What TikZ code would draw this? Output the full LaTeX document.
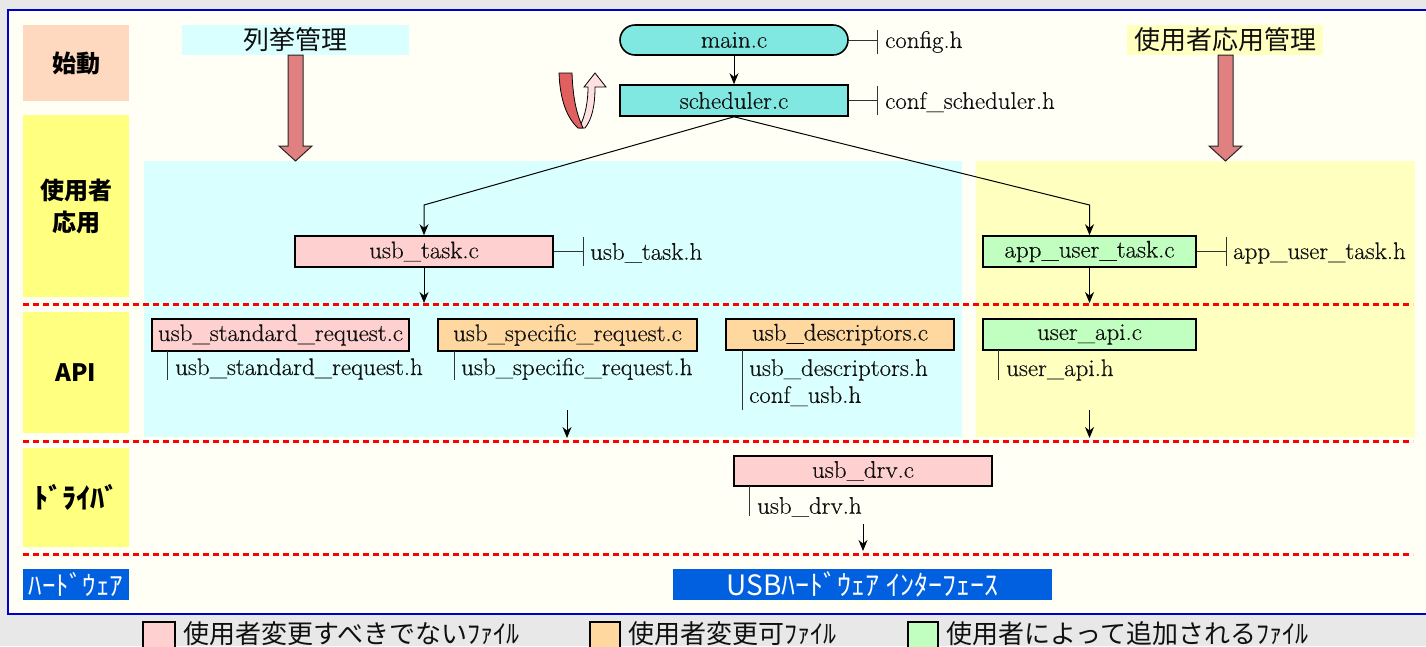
\documentclass[tikz,border=0pt]{standalone}
\usepackage{fontspec}
\newfontfamily\jp{Noto Sans CJK JP}
\newfontfamily\fnfont{Latin Modern Roman}[FakeStretch=1.04,FakeBold=0.4]
\usetikzlibrary{arrows.meta}
\definecolor{bggray}{HTML}{E8E8E8}
\definecolor{panel}{HTML}{FFFFF6}
\definecolor{panelblue}{HTML}{0000CC}
\definecolor{peach}{HTML}{FFD8C0}
\definecolor{ylw}{HTML}{FFFF80}
\definecolor{cyanbg}{HTML}{D9FFFF}
\definecolor{ylbg}{HTML}{FFFFC0}
\definecolor{turq}{HTML}{80E8E0}
\definecolor{pinkf}{HTML}{FFD0D0}
\definecolor{orangef}{HTML}{FFD8A0}
\definecolor{greenf}{HTML}{C0FFC0}
\definecolor{hwblue}{HTML}{0060E0}
\definecolor{bigarrow}{HTML}{E08080}
\definecolor{loopred}{HTML}{E06060}
\definecolor{looppink}{HTML}{FFE0E0}
\definecolor{txt}{HTML}{101010}
\newcommand\fnsz{\fnfont\fontsize{24}{27}\selectfont}
\tikzset{
  fbox/.style={draw=black, line width=1.6pt, inner sep=0pt, font=\fnsz, text=txt},
  hfile/.style={inner sep=0pt, anchor=west, font=\fnsz, text=txt, align=left},
  tickln/.style={line width=0.9pt, draw=black!80},
  conn/.style={line width=1pt, -{Stealth[length=11pt,width=9pt]}},
  lbl/.style={inner sep=0pt, minimum width=106pt, font=\jp\bfseries\fontsize{24}{32}\selectfont, text=black},
  hdr/.style={inner sep=0pt, font=\jp\fontsize{26}{30}\selectfont, text=txt},
  sepline/.style={draw=red, line width=3pt, dash pattern=on 6pt off 4pt},
  legsq/.style={draw=black, line width=1.6pt},
  legtxt/.style={inner sep=0pt, anchor=west, font=\jp\fontsize{26}{30}\selectfont, text=txt},
  fatarrow/.style={draw=black!85, line width=1pt, fill=bigarrow}
}
\begin{document}
\begin{tikzpicture}[x=1pt,y=-1pt]
\useasboundingbox (0,0) rectangle (1426,646);
\fill[bggray] (0,0) rectangle (1426,646);
\draw[draw=panelblue, line width=2pt, fill=panel] (8,10) rectangle (1445,614);

% lanes
\fill[cyanbg] (144,161) rectangle (962,437);
\fill[ylbg] (976,161) rectangle (1415,437);

% left labels
\node[lbl, fill=peach, minimum height=76pt] (lstart) at (76,63) {始動};
\node[lbl, fill=ylw, minimum height=182pt, align=center] (lapp) at (76,206) {使用者\\応用};
\node[lbl, fill=ylw, minimum height=121pt] (lapi) at (76,372.5) {API};
\node[lbl, fill=ylw, minimum height=99pt, font=\jp\bfseries\fontsize{28}{32}\selectfont] (ldrv) at (76,497.5) {ﾄﾞﾗｲﾊﾞ};
\node[lbl, fill=hwblue, text=white, minimum height=31pt, font=\jp\fontsize{27}{30}\selectfont] (lhw) at (76,584.5) {ﾊｰﾄﾞｳｪｱ};

% separators
\draw[sepline] (23,304) -- (1413,304);
\draw[sepline] (23,441) -- (1413,441);
\draw[sepline] (23,554) -- (1413,554);

% headers
\node[hdr, fill=cyanbg, minimum width=227pt, minimum height=30pt] (enum) at (295.5,40) {列挙管理};
\node[hdr, fill=ylbg, minimum width=196pt, minimum height=30pt] (appm) at (1225,40) {使用者応用管理};

% big arrows
\draw[fatarrow] (288,55) -- (303,55) -- (303,146) -- (312,146) -- (295.5,161) -- (279,146) -- (288,146) -- cycle;
\draw[fatarrow] (1218,55) -- (1233,55) -- (1233,146) -- (1242,146) -- (1225.5,161) -- (1209,146) -- (1218,146) -- cycle;

% loop arrow
\draw[fill=looppink, line width=0.8pt] (579,128) .. controls (586,115) and (588,100) .. (588,87) -- (584,87) -- (595,73) -- (606,87) -- (595,87) .. controls (595,106) and (592,119) .. (585,128) -- cycle;
\draw[fill=loopred, line width=0.8pt] (559,73) -- (572,73) .. controls (573,100) and (577,115) .. (583,128) -- (578,128) .. controls (567,118) and (560,100) .. (559,73) -- cycle;

% top nodes
\node[fbox, fill=turq, rounded corners=15pt, minimum width=228pt, minimum height=30pt] (main) at (734,40) {main.c};
\node[fbox, fill=turq, minimum width=228pt, minimum height=31pt] (sched) at (734,100.5) {scheduler.c};
\node[hfile] (cfg) at (885,42) {config.h};
\node[hfile] (csch) at (885,102) {conf\_scheduler.h};
\draw[tickln] (main.east) -- (877,40);
\draw[tickln] (877,30) -- (877,54);
\draw[tickln] (sched.east) -- (877,100.5);
\draw[tickln] (877,86) -- (877,115);

% task row
\node[fbox, fill=pinkf, minimum width=258pt, minimum height=31pt] (usbtask) at (424,251.5) {usb\_task.c};
\node[fbox, fill=greenf, minimum width=213pt, minimum height=31pt] (apptask) at (1089.5,251.5) {app\_user\_task.c};
\node[hfile] (usbtaskh) at (590,253) {usb\_task.h};
\node[hfile] (apptaskh) at (1233,253) {app\_user\_task.h};
\draw[tickln] (usbtask.east) -- (583,251.5);
\draw[tickln] (583,237) -- (583,266);
\draw[tickln] (apptask.east) -- (1226,251.5);
\draw[tickln] (1226,237) -- (1226,266);

\coordinate (bl) at (424,205);
\coordinate (br) at (1089.5,205);
\draw[conn] (main.south) -- (sched.north);
\draw[conn] (sched.south) -- (bl) -- (usbtask.north);
\draw[conn] (sched.south) -- (br) -- (apptask.north);
\coordinate (s1a) at (424,303);
\coordinate (s1b) at (1089.5,303);
\draw[conn] (usbtask.south) -- (s1a);
\draw[conn] (apptask.south) -- (s1b);

% API row
\node[fbox, fill=pinkf, minimum width=257pt, minimum height=32pt] (stdreq) at (280.5,335) {usb\_standard\_request.c};
\node[fbox, fill=orangef, minimum width=259pt, minimum height=32pt] (specreq) at (567.5,335) {usb\_specific\_request.c};
\node[fbox, fill=orangef, minimum width=228pt, minimum height=31pt] (desc) at (840,334.5) {usb\_descriptors.c};
\node[fbox, fill=greenf, minimum width=213pt, minimum height=31pt] (uapi) at (1089.5,334.5) {user\_api.c};
\node[hfile] (stdreqh) at (175,369) {usb\_standard\_request.h};
\node[hfile] (specreqh) at (461,369) {usb\_specific\_request.h};
\node[hfile, anchor=north west] (desch) at (749,359) {usb\_descriptors.h\\conf\_usb.h};
\node[hfile] (uapih) at (1006,370) {user\_api.h};
\draw[tickln] (167,351) -- (167,380);
\draw[tickln] (454,351) -- (454,380);
\draw[tickln] (742,350) -- (742,410);
\draw[tickln] (998,350) -- (998,380);
\coordinate (a2s) at (567,410);
\coordinate (a2e) at (567,438);
\coordinate (a3s) at (1089.5,410);
\coordinate (a3e) at (1089.5,438);
\draw[conn] (a2s) -- (a2e);
\draw[conn] (a3s) -- (a3e);

% driver row
\node[fbox, fill=pinkf, minimum width=258pt, minimum height=30pt] (drv) at (863,471) {usb\_drv.c};
\node[hfile] (drvh) at (757,507) {usb\_drv.h};
\draw[tickln] (749,486) -- (749,516);
\coordinate (a4s) at (863,524);
\coordinate (a4e) at (863,551);
\draw[conn] (a4s) -- (a4e);

% hardware
\node[inner sep=0pt, fill=hwblue, text=white, minimum width=379pt, minimum height=31pt, font=\jp\fontsize{28}{30}\selectfont] (usbhw) at (862.5,584.5) {USBﾊｰﾄﾞｳｪｱ ｲﾝﾀｰﾌｪｰｽ};

% legend
\draw[legsq, fill=pinkf] (143,622) rectangle (175,652);
\node[legtxt] (leg1) at (183,634) {使用者変更すべきでないﾌｧｲﾙ};
\draw[legsq, fill=orangef] (590,622) rectangle (620,652);
\node[legtxt] (leg2) at (628,634) {使用者変更可ﾌｧｲﾙ};
\draw[legsq, fill=greenf] (908,622) rectangle (938,652);
\node[legtxt] (leg3) at (946,634) {使用者によって追加されるﾌｧｲﾙ};
\end{tikzpicture}
\end{document}
